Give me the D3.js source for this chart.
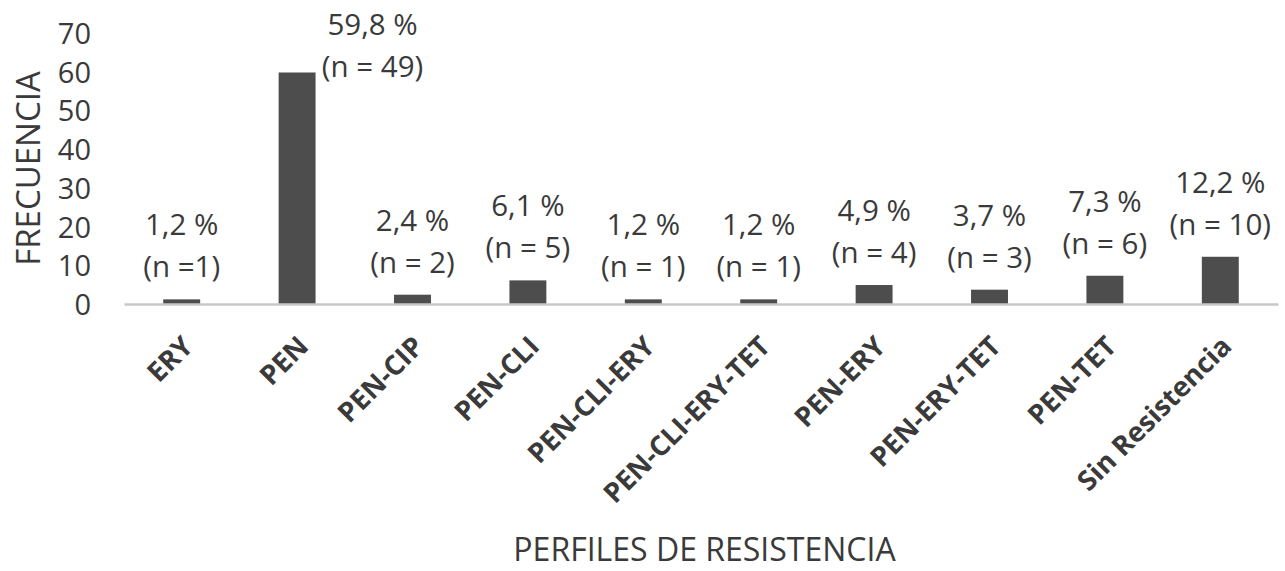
<!DOCTYPE html>
<html>
<head>
<meta charset="utf-8">
<script src="https://cdn.jsdelivr.net/npm/d3@7"></script>
<style>
  body { margin: 0; background: #ffffff; }
  text { font-family: "Open Sans", "Noto Sans", sans-serif; fill: #3a3a3a; }
</style>
</head>
<body>
<script>
// Data
//= ================================
var perfiles = ["ERY", "PEN", "PEN-CIP", "PEN-CLI", "PEN-CLI-ERY", "PEN-CLI-ERY-TET",
  "PEN-ERY", "PEN-ERY-TET", "PEN-TET", "Sin Resistencia"];
var porcentajes = [1.2, 59.8, 2.4, 6.1, 1.2, 1.2, 4.9, 3.7, 7.3, 12.2];
var conteos = [1, 49, 2, 5, 1, 1, 4, 3, 6, 10];
var etiquetasN = ["(n =1)", "(n = 49)", "(n = 2)", "(n = 5)", "(n = 1)", "(n = 1)",
  "(n = 4)", "(n = 3)", "(n = 6)", "(n = 10)"];
var yTicks = [0, 10, 20, 30, 40, 50, 60, 70];

var rows = perfiles.map(function(p, i) {
  return { perfil: p, pct: porcentajes[i], n: conteos[i], nLabel: etiquetasN[i] };
});

// Step 1: Set up the chart
//= ================================
var svgWidth = 1285;
var svgHeight = 571;

var margin = { top: 33, right: 7, bottom: 267, left: 124 };
var width = svgWidth - margin.left - margin.right;
var height = svgHeight - margin.top - margin.bottom;

var svg = d3.select("body")
  .append("svg")
  .attr("width", svgWidth)
  .attr("height", svgHeight);

var chartGroup = svg.append("g")
  .attr("transform", `translate(${margin.left}, ${margin.top})`);

// Step 2: Scales
//= ================================
var xScale = d3.scaleBand()
  .domain(perfiles)
  .range([0, width])
  .paddingInner(0.68)
  .paddingOuter(0.34);

var yScale = d3.scaleLinear()
  .domain([0, 70])
  .range([height, 0]);

// Step 3: Axes
//= ================================
var leftAxis = d3.axisLeft(yScale)
  .tickValues(yTicks)
  .tickSize(0)
  .tickPadding(33);

var yAxisG = chartGroup.append("g").call(leftAxis);
yAxisG.select(".domain").remove();
yAxisG.selectAll("text")
  .attr("font-size", "29px")
  .attr("font-family", "'Open Sans', sans-serif")
  .attr("fill", "#3a3a3a")
  .attr("dy", "0.36em");

// Step 4: Bars
//= ================================
chartGroup.selectAll("rect.bar")
  .data(rows)
  .enter()
  .append("rect")
  .attr("class", "bar")
  .attr("x", d => xScale(d.perfil))
  .attr("y", d => yScale(d.pct))
  .attr("width", xScale.bandwidth())
  .attr("height", d => height - yScale(d.pct))
  .attr("fill", "#4d4d4d");

// baseline
var bottomAxis = d3.axisBottom(xScale).tickSize(0).tickFormat("");
var xAxisG = chartGroup.append("g")
  .attr("transform", `translate(0, ${height})`)
  .call(bottomAxis);
xAxisG.select(".domain")
  .attr("stroke", "#c8c8c8")
  .attr("stroke-width", 2.5);

// Step 5: Data labels (two lines)
//= ================================
var lineGap = 42;
var labels = chartGroup.append("g")
  .selectAll("g")
  .data(rows)
  .enter()
  .append("g")
  .attr("transform", function(d) {
    var top = yScale(d.pct);
    var cx = xScale(d.perfil) + xScale.bandwidth() / 2;
    var base2 = top - 22;
    // no room above the tallest bar: put the label beside it
    if (base2 - lineGap - 22 < -margin.top) {
      cx = xScale(d.perfil) + xScale.bandwidth() + 57;
      base2 = top + 5;
    }
    return `translate(${cx}, ${base2})`;
  });

labels.append("text")
  .attr("y", -lineGap)
  .attr("text-anchor", "middle")
  .attr("font-size", "29.5px")
  .text(d => d3.format(".1f")(d.pct).replace(".", ",") + " %");

labels.append("text")
  .attr("y", 0)
  .attr("text-anchor", "middle")
  .attr("font-size", "29.5px")
  .text(d => d.nLabel);

// Step 6: Category labels, rotated
//= ================================
chartGroup.append("g")
  .selectAll("text")
  .data(rows)
  .enter()
  .append("text")
  .attr("transform", d => `translate(${xScale(d.perfil) + xScale.bandwidth() / 2 + 13}, ${height + 44}) rotate(-45)`)
  .attr("text-anchor", "end")
  .attr("font-size", "27.5px")
  .style("font-weight", "bold")
  .text(d => d.perfil);

// Step 7: Axis titles
//= ================================
svg.append("text")
  .attr("transform", `translate(${svgWidth / 2 + 62}, 561)`)
  .attr("text-anchor", "middle")
  .attr("font-size", "32px")
  .text("PERFILES DE RESISTENCIA");

svg.append("text")
  .attr("transform", `translate(40, ${margin.top + height / 2}) rotate(-90)`)
  .attr("text-anchor", "middle")
  .attr("font-size", "33px")
  .text("FRECUENCIA");
</script>
</body>
</html>
